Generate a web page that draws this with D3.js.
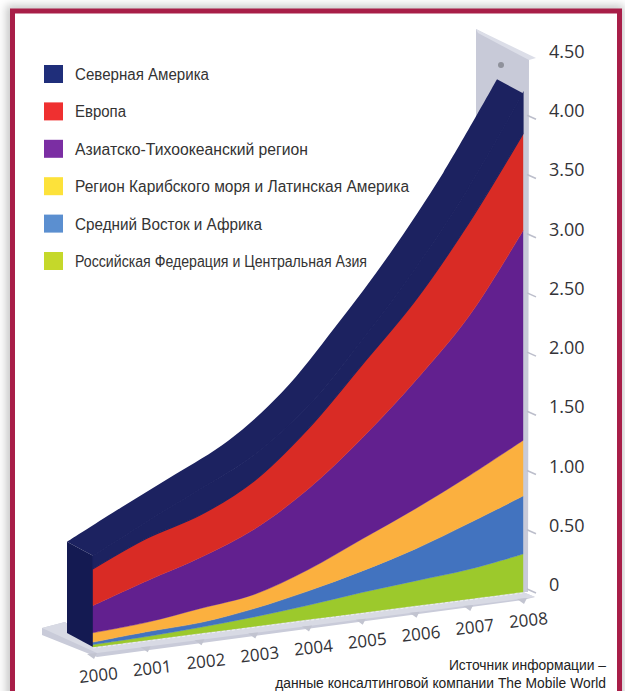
<!DOCTYPE html>
<html>
<head>
<meta charset="utf-8">
<script src="https://cdn.jsdelivr.net/npm/d3@7"></script>
<style>
html, body { margin: 0; padding: 0; background: #fff; }
svg { display: block; }
</style>
</head>
<body>
<svg></svg>
<script>
let width = 625, height = 691;

// values, bottom layer first
const years = [2000, 2001, 2002, 2003, 2004, 2005, 2006, 2007, 2008];
const russia  = [0.02, 0.03, 0.05, 0.08, 0.12, 0.17, 0.21, 0.25, 0.32];
const mideast = [0.02, 0.04, 0.04, 0.07, 0.12, 0.18, 0.27, 0.39, 0.49];
const latam   = [0.08, 0.08, 0.12, 0.12, 0.18, 0.27, 0.34, 0.40, 0.47];
const asia    = [0.23, 0.35, 0.43, 0.55, 0.68, 0.85, 1.08, 1.35, 1.77];
const europe  = [0.31, 0.36, 0.36, 0.41, 0.51, 0.62, 0.68, 0.79, 0.82];
const namerica = [0.11, 0.14, 0.22, 0.22, 0.19, 0.21, 0.27, 0.30, 0.34];

const seriesValues = [russia, mideast, latam, asia, europe, namerica];
const areaColors = ["#9cc92c", "#4273bf", "#fbb03f", "#62208f", "#d92b25", "#1c2260"];

const legendLabels = ["Северная Америка", "Европа", "Азиатско-Тихоокеанский регион",
    "Регион Карибского моря и Латинская Америка", "Средний Восток и Африка",
    "Российская Федерация и Центральная Азия"];
const legendColors = ["#1f2e7a", "#ef3030", "#7b2ea3", "#fde23a", "#5b8fd0", "#c5d82a"];

const yTicks = [0, 0.5, 1, 1.5, 2, 2.5, 3, 3.5, 4, 4.5];
const yTickLabels = ["0", "0.50", "1.00", "1.50", "2.00", "2.50", "3.00", "3.50", "4.00", "4.50"];
const sourceLines = ["Источник информации –", "данные консалтинговой компании The Mobile World"];

let svg = d3.select("svg")
    .attr("width", width)
    .attr("height", height)
    .attr("viewBox", "0 0 " + width + " " + height);

// soft shadow round the frame
let defs = svg.append("defs");
defs.append("filter").attr("id", "blur")
    .attr("x", "-5%").attr("y", "-5%").attr("width", "110%").attr("height", "110%")
    .append("feGaussianBlur").attr("stdDeviation", 4);

svg.append("rect")
    .attr("x", 6).attr("y", 5).attr("width", 618).attr("height", 720)
    .attr("fill", "#c9c9c9")
    .attr("filter", "url(#blur)");

svg.append("rect")
    .attr("x", 12.5).attr("y", 11).attr("width", 607).attr("height", 720)
    .attr("fill", "#fff")
    .attr("stroke", "#a81e48")
    .attr("stroke-width", 5);

// chart is sheared: the floor rises to the right, depth goes up and left
const depthX = -26, depthY = -14;
const x = d3.scaleLinear().domain([2000, 2008]).range([93, 523]);
const floorY = d3.scaleLinear().domain([2000, 2008]).range([647, 592]);
const h = d3.scaleLinear().domain([0, 4.5]).range([0, 533]);
const yAt = (year, v) => floorY(year) - h(v);

let rows = years.map((year, i) => {
    let row = { year: year };
    seriesValues.forEach((s, j) => { row["s" + j] = s[i]; });
    return row;
});
let stacked = d3.stack().keys(seriesValues.map((s, j) => "s" + j))(rows);
let topLayer = stacked[stacked.length - 1];

// back wall with its flange and bolt
svg.append("polygon")
    .attr("points", "476,29 529,58 528,592 523,592 523,150 476,130")
    .attr("fill", "#c8cad8");
svg.append("polygon")
    .attr("points", "476,29 536,58 529,60 478,33")
    .attr("fill", "#dcdee8");
svg.append("circle")
    .attr("cx", 501).attr("cy", 65).attr("r", 3)
    .attr("fill", "#8f919b");

// floor
svg.append("polygon")
    .attr("points", "42,628 65,622 93,647 523,592 535,597 523,600 97,657 42,635")
    .attr("fill", "#c9cbd9");
svg.append("polygon")
    .attr("points", "42,628 65,622 93,647 523,592 535,597 97,653")
    .attr("fill", "#d8dae4");

// year ticks under the floor
svg.append("g").selectAll("polygon")
    .data(years)
    .enter()
    .append("polygon")
    .attr("points", d => {
        let px = x(d), py = floorY(d);
        return [[px - 6, py + 7], [px + 4, py + 6], [px + 1, py + 12]].join(" ");
    })
    .attr("fill", "#c2c4d0");

// value ticks on the wall
svg.append("g").selectAll("line")
    .data(yTicks.slice(0, 9))
    .enter()
    .append("line")
    .attr("x1", 527).attr("x2", 536)
    .attr("y1", d => yAt(2008, d) - 3)
    .attr("y2", d => yAt(2008, d) + 1)
    .attr("stroke", "#bcbecb")
    .attr("stroke-width", 1.6);

// navy top surface: front curve to the same curve pushed back
let curve = d3.curveCatmullRom.alpha(0.5);
let surface = d3.area()
    .curve(curve)
    .x0(d => x(d.data.year))
    .y0(d => yAt(d.data.year, d[1]))
    .x1(d => x(d.data.year) + depthX)
    .y1(d => yAt(d.data.year, d[1]) + depthY);
svg.append("path")
    .attr("d", surface(topLayer))
    .attr("fill", areaColors[5]);

// left side face
let first = topLayer[0];
let sideTop = yAt(first.data.year, first[1]);
let sideBottom = floorY(first.data.year);
let sideX = x(first.data.year);
svg.append("polygon")
    .attr("points", [[sideX + depthX, sideTop + depthY], [sideX, sideTop],
        [sideX, sideBottom], [sideX + depthX, sideBottom + depthY]].join(" "))
    .attr("fill", "#141a52");

// front stacked areas, thicker stroke on navy hides the seam with the surface
let area = d3.area()
    .curve(curve)
    .x(d => x(d.data.year))
    .y0(d => yAt(d.data.year, d[0]))
    .y1(d => yAt(d.data.year, d[1]));
svg.append("g").selectAll("path")
    .data(stacked)
    .enter()
    .append("path")
    .attr("d", area)
    .attr("fill", (d, i) => areaColors[i])
    .attr("stroke", (d, i) => areaColors[i])
    .attr("stroke-width", (d, i) => i == 5 ? 1.2 : 0.4);

// white dashes along the foot of the stack
svg.append("line")
    .attr("x1", x(2000)).attr("y1", floorY(2000) + 1)
    .attr("x2", x(2008)).attr("y2", floorY(2008) + 1)
    .attr("stroke", "#eef0f2")
    .attr("stroke-width", 1)
    .attr("stroke-dasharray", "3 2");

// year labels
svg.append("g").selectAll("text")
    .data(years)
    .enter()
    .append("text")
    .attr("transform", d => "translate(" + (x(d) + 6) + "," + (floorY(d) + 34) + ") rotate(-6)")
    .attr("text-anchor", "middle")
    .attr("font-family", "Open Sans")
    .attr("font-size", 17)
    .attr("fill", "#333338")
    .text(d => d);

// value labels
svg.append("g").selectAll("text")
    .data(yTicks)
    .enter()
    .append("text")
    .attr("x", 549)
    .attr("y", d => yAt(2008, d) - 1)
    .attr("font-family", "Open Sans")
    .attr("font-size", 18)
    .attr("fill", "#333338")
    .text((d, i) => yTickLabels[i]);

// legend, text squeezed to the widths of the original narrow face
const legendTextWidths = [134, 51, 233, 334, 187, 292];
const legendY = d3.scalePoint().domain(legendLabels).range([65, 252]);
let legend = svg.append("g").selectAll("g")
    .data(legendLabels)
    .enter()
    .append("g")
    .attr("transform", d => "translate(44," + legendY(d) + ")");
legend.append("rect")
    .attr("width", 19).attr("height", 18)
    .attr("fill", (d, i) => legendColors[i]);
legend.append("text")
    .attr("x", 31).attr("y", 15)
    .attr("textLength", (d, i) => legendTextWidths[i])
    .attr("lengthAdjust", "spacingAndGlyphs")
    .attr("font-family", "Liberation Sans")
    .attr("font-size", 16)
    .attr("fill", "#333")
    .text(d => d);

// source note
svg.append("g").selectAll("text")
    .data(sourceLines)
    .enter()
    .append("text")
    .attr("transform", (d, i) => "translate(606," + (669.5 + i * 18) + ") scale(0.955,1)")
    .attr("text-anchor", "end")
    .attr("font-family", "Liberation Sans")
    .attr("font-size", 14.5)
    .attr("fill", "#222")
    .text(d => d);
</script>
</body>
</html>
